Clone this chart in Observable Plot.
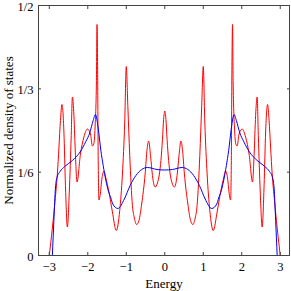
<!DOCTYPE html>
<html><head><meta charset="utf-8">
<script src="https://cdn.jsdelivr.net/npm/d3@7"></script>
<script src="https://cdn.jsdelivr.net/npm/@observablehq/plot@0.6"></script>
<style>body{margin:0;background:#fff}</style>
</head><body><div id="chart"></div>
<script>
// Red curve (discrete system DOS)
const redE = [
  -3.00,-2.92,-2.85,-2.79,-2.75,-2.71,-2.67,-2.62,-2.58,-2.53,-2.48,-2.43,-2.40,-2.36,-2.32,-2.28,
  -2.19,-2.10,-2.01,-1.93,-1.88,-1.845,-1.81,-1.775,-1.76,-1.745,-1.73,-1.71,-1.68,-1.63,-1.58,
  -1.53,-1.45,-1.36,-1.26,-1.17,-1.10,-1.04,-1.00,-0.96,-0.91,-0.84,-0.79,-0.73,-0.67,-0.60,
  -0.51,-0.46,-0.42,-0.37,-0.32,-0.25,-0.19,-0.14,-0.10,-0.06,-0.03,
  0.00,
  0.03,0.06,0.10,0.14,0.19,0.25,0.32,0.37,0.42,0.46,0.51,0.60,0.67,0.73,0.79,0.84,0.91,0.96,
  1.00,1.04,1.10,1.17,1.26,1.36,1.45,1.53,1.58,1.63,1.68,1.71,1.73,1.745,1.76,1.775,1.81,1.845,
  1.88,1.93,2.01,2.10,2.19,2.28,2.32,2.36,2.40,2.43,2.48,2.53,2.58,2.62,2.67,2.71,2.75,2.79,
  2.85,2.92,3.00
];
const redDos = [
  0.000,0.055,0.110,0.163,0.215,0.270,0.302,0.247,0.140,0.057,0.127,0.240,0.317,0.280,0.200,0.147,
  0.203,0.237,0.253,0.243,0.219,0.223,0.257,0.350,0.462,0.380,0.200,0.111,0.120,0.155,0.169,
  0.155,0.127,0.087,0.050,0.090,0.163,0.267,0.378,0.300,0.200,0.100,0.075,0.062,0.070,0.103,
  0.163,0.212,0.229,0.200,0.160,0.137,0.145,0.163,0.190,0.232,0.272,
  0.289,
  0.272,0.232,0.190,0.163,0.145,0.137,0.160,0.200,0.229,0.212,0.163,0.103,0.070,0.062,0.075,0.100,0.200,0.300,
  0.378,0.267,0.163,0.090,0.050,0.087,0.127,0.155,0.169,0.155,0.120,0.111,0.200,0.380,0.462,0.350,0.257,0.223,
  0.219,0.243,0.253,0.237,0.203,0.147,0.200,0.280,0.317,0.240,0.127,0.057,0.140,0.247,0.302,0.270,0.215,0.163,
  0.110,0.055,0.000
];
// Blue curve (smooth DOS)
const blueE = [
  -2.92,-2.88,-2.84,-2.80,-2.72,-2.60,-2.40,-2.20,-2.05,-1.95,-1.86,-1.80,-1.73,-1.66,-1.60,-1.53,
  -1.47,-1.40,-1.35,-1.22,-1.05,-0.90,-0.75,-0.60,-0.45,-0.20,
  0.00,
  0.20,0.45,0.60,0.75,0.90,1.05,1.22,1.35,1.40,1.47,1.53,1.60,1.66,1.73,1.80,1.86,1.95,2.05,2.20,
  2.40,2.60,2.72,2.80,2.84,2.88,2.92
];
const blueDos = [
  0.000,0.070,0.135,0.156,0.168,0.178,0.190,0.207,0.228,0.245,0.270,0.282,0.255,0.210,0.180,0.150,
  0.130,0.115,0.103,0.094,0.113,0.140,0.160,0.172,0.176,0.172,
  0.171,
  0.172,0.176,0.172,0.160,0.140,0.113,0.094,0.103,0.115,0.130,0.150,0.180,0.210,0.255,0.282,0.270,0.245,0.228,0.207,
  0.190,0.178,0.168,0.156,0.135,0.070,0.000
];
const xTicks = [-3, -2, -1, 0, 1, 2, 3];
const yTicks = [0, 1/6, 1/3, 1/2];
const yTickLabels = ["0", "1/6", "1/3", "1/2"];
const xLabel = "Energy";
const yLabel = "Normalized density of states";

const red = redE.map((e, i) => ({e, v: redDos[i]}));
const blue = blueE.map((e, i) => ({e, v: blueDos[i]}));
const axisColor = "#444";

const chart = Plot.plot({
  width: 291, height: 291,
  marginLeft: 38, marginRight: 2, marginTop: 5, marginBottom: 36,
  style: {fontFamily: "'Liberation Serif', serif", fontSize: "12.5px", background: "#fff", color: "#000"},
  x: {domain: [-3.28, 3.24], label: null},
  y: {domain: [0, 0.5], label: null},
  marks: [
    Plot.line(red, {x: "e", y: "v", stroke: "#ff0000", strokeWidth: 1, curve: "monotone-x", clip: true}),
    Plot.line(blue, {x: "e", y: "v", stroke: "#0000ff", strokeWidth: 1, curve: "monotone-x", clip: true}),
    Plot.frame({stroke: axisColor}),
    Plot.axisX(xTicks, {anchor: "bottom", tickSize: -3, tickFormat: () => "", stroke: axisColor, label: null}),
    Plot.axisX(xTicks, {anchor: "top", tickSize: -3, tickFormat: () => "", stroke: axisColor, label: null}),
    Plot.axisX(xTicks, {anchor: "bottom", tickSize: 0, tickPadding: 7, label: null}),
    Plot.axisY(yTicks, {anchor: "left", tickSize: -3, tickFormat: () => "", stroke: axisColor, label: null}),
    Plot.axisY(yTicks, {anchor: "right", tickSize: -3, tickFormat: () => "", stroke: axisColor, label: null}),
    Plot.axisY(yTicks, {anchor: "left", tickSize: 0, tickPadding: 5, dy: 1, tickFormat: d => yTickLabels[yTicks.indexOf(d)], label: null}),
    Plot.text([xLabel], {frameAnchor: "bottom", dy: 28, lineAnchor: "middle", textAnchor: "middle", fontSize: 13, text: d => d}),
    Plot.text([yLabel], {frameAnchor: "left", dx: -30, rotate: -90, lineAnchor: "middle", textAnchor: "middle", fontSize: 13, text: d => d})
  ]
});
document.getElementById("chart").appendChild(chart);
</script>
</body></html>
